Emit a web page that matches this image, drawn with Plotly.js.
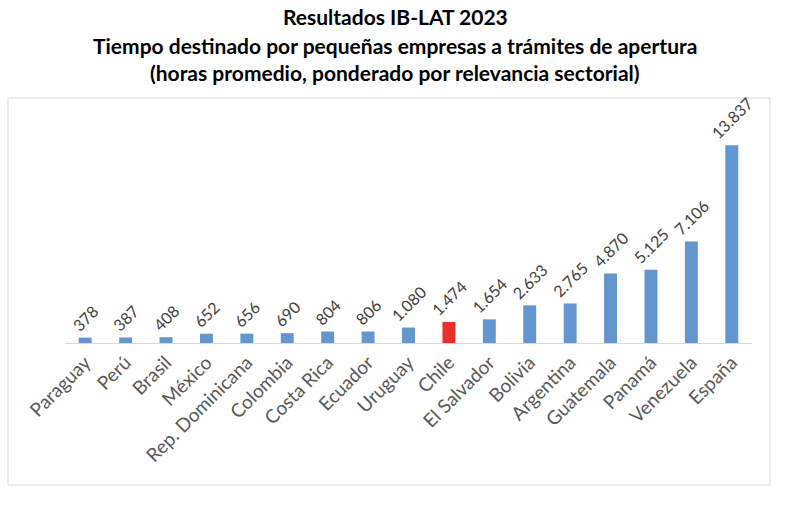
<!DOCTYPE html>
<html>
<head>
<meta charset="utf-8">
<script src="https://cdn.plot.ly/plotly-3.0.1.min.js"></script>
<style>
  html, body { margin: 0; padding: 0; background: #fff; }
  #chart { width: 790px; height: 510px; }
</style>
</head>
<body>
<div id="chart"></div>
<script>
// países, ordenados de menor a mayor
var countries = ['Paraguay', 'Perú', 'Brasil', 'México', 'Rep. Dominicana', 'Colombia',
  'Costa Rica', 'Ecuador', 'Uruguay', 'Chile', 'El Salvador', 'Bolivia', 'Argentina',
  'Guatemala', 'Panamá', 'Venezuela', 'España'];
// horas promedio
var hours = [378, 387, 408, 652, 656, 690, 804, 806, 1080, 1474, 1654, 2633, 2765,
  4870, 5125, 7106, 13837];
var highlight = 'Chile';
var titleLines = ['Resultados IB-LAT 2023',
  'Tiempo destinado por pequeñas empresas a trámites de apertura',
  '(horas promedio, ponderado por relevancia sectorial)'];

var blue = '#6497D0';
var red = '#E8312A';
var font = 'Lato, Open Sans, sans-serif';

// plot area in pixels (used to place title lines and the frame)
var plotL = 65, plotW = 687, plotBase = 343, plotH = 243;
function py(px) { return (plotBase - px) / plotH; }
function pxX(px) { return (px - plotL) / plotW; }

function fmt(v) {
  return String(v).replace(/\B(?=(\d{3})+(?!\d))/g, '.');
}

var trace = {
  type: 'bar',
  x: countries,
  y: hours,
  text: hours.map(fmt),
  textposition: 'outside',
  textangle: -45,
  constraintext: 'none',
  cliponaxis: false,
  textfont: { family: font, size: 16, color: '#404040' },
  marker: {
    color: countries.map(function (c) { return c === highlight ? red : blue; })
  },
  hoverinfo: 'x+y'
};

var titleY = [17, 45, 73];
var annotations = titleLines.map(function (t, i) {
  return {
    text: '<b>' + t + '</b>',
    xref: 'paper', yref: 'paper',
    x: pxX(395), y: py(titleY[i]),
    xanchor: 'center', yanchor: 'middle',
    showarrow: false,
    font: { family: font, size: 21, color: '#000' }
  };
});

var layout = {
  width: 790,
  height: 510,
  margin: { l: plotL, r: 790 - plotL - plotW, t: plotBase - plotH, b: 510 - plotBase },
  paper_bgcolor: '#fff',
  plot_bgcolor: '#fff',
  bargap: 0.68,
  showlegend: false,
  xaxis: {
    tickangle: -45,
    tickfont: { family: font, size: 19, color: '#595959' },
    showline: true,
    linecolor: '#d9d9d9',
    linewidth: 1,
    ticks: '',
    fixedrange: true
  },
  yaxis: {
    range: [0, 17000],
    visible: false,
    showgrid: false,
    zeroline: false,
    fixedrange: true
  },
  annotations: annotations,
  shapes: [{
    type: 'rect',
    xref: 'paper',
    yref: 'paper',
    x0: pxX(8),
    x1: pxX(770),
    y0: py(485),
    y1: py(98),
    line: { color: '#d9d9d9', width: 1 },
    fillcolor: 'rgba(0,0,0,0)',
    layer: 'below'
  }]
};

Plotly.newPlot('chart', [trace], layout, { displayModeBar: false, staticPlot: true });
</script>
</body>
</html>
